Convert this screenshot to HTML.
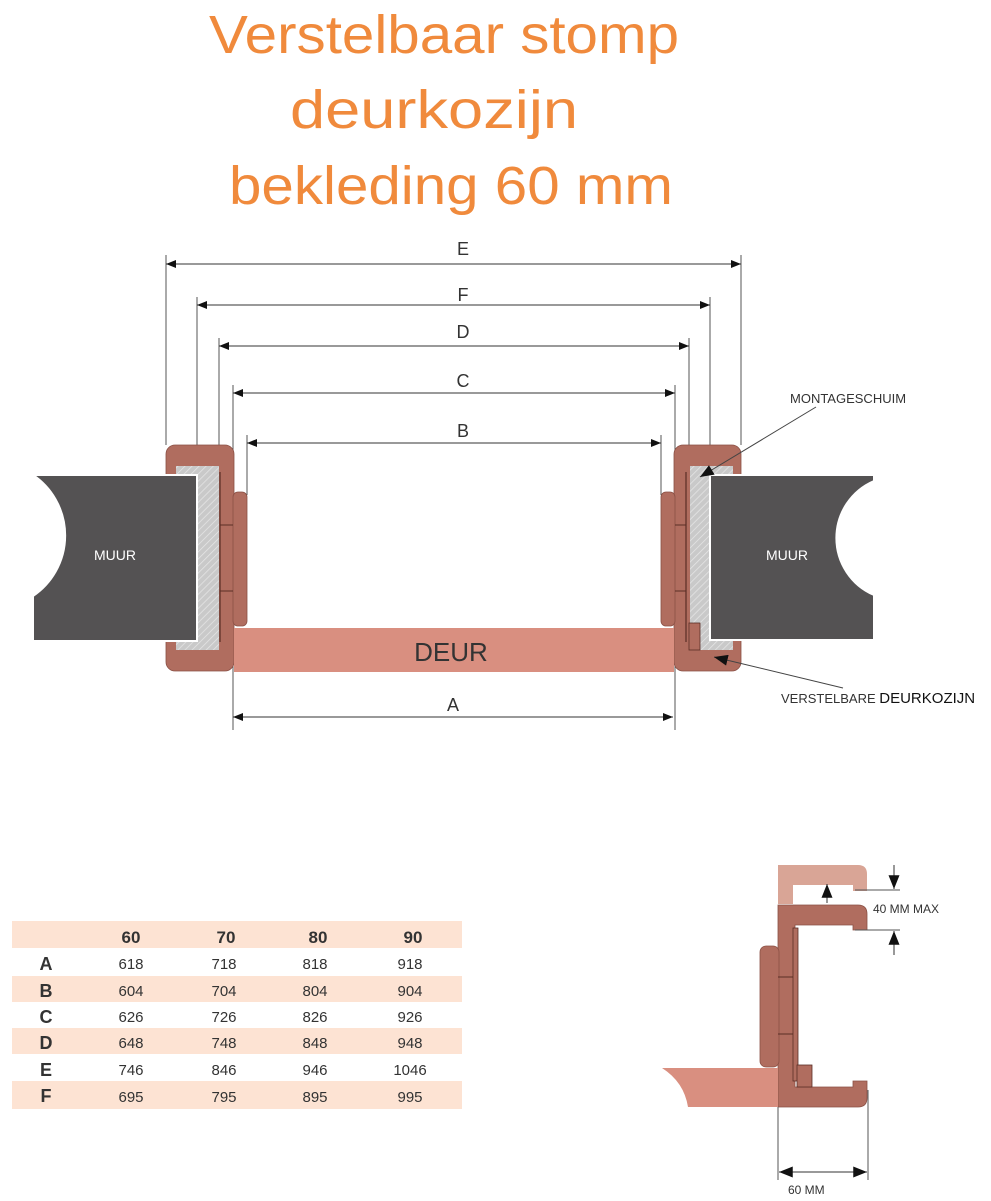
<!DOCTYPE html>
<html><head><meta charset="utf-8"><style>
html,body{margin:0;padding:0;background:#fff;}
svg{display:block;font-family:"Liberation Sans",sans-serif;}
</style></head><body>
<svg width="991" height="1201" viewBox="0 0 991 1201" xmlns="http://www.w3.org/2000/svg">
<defs>
<marker id="ar" viewBox="0 0 10 8" refX="10" refY="4" markerWidth="10" markerHeight="8" orient="auto-start-reverse" markerUnits="userSpaceOnUse"><path d="M0,0 L10,4 L0,8z" fill="#111"/></marker>
<marker id="ar2" viewBox="0 0 10 8" refX="10" refY="4" markerWidth="14" markerHeight="11" orient="auto-start-reverse" markerUnits="userSpaceOnUse"><path d="M0,0 L10,4 L0,8z" fill="#111"/></marker>
<pattern id="hatch" width="5" height="5" patternUnits="userSpaceOnUse" patternTransform="rotate(45)"><rect width="5" height="5" fill="#c9c9c9"/><line x1="0" y1="0" x2="0" y2="5" stroke="#e6e6e6" stroke-width="1.5"/></pattern>
</defs>
<g fill="#f08a3c" font-size="54" text-anchor="middle" font-family="Liberation Sans,sans-serif">
<text x="444" y="53" textLength="470" lengthAdjust="spacingAndGlyphs">Verstelbaar stomp</text>
<text x="434" y="128" textLength="288" lengthAdjust="spacingAndGlyphs">deurkozijn</text>
<text x="451" y="204" textLength="444" lengthAdjust="spacingAndGlyphs">bekleding 60 mm</text>
</g>
<g stroke="#555" stroke-width="1" fill="none">
<line x1="166" y1="255" x2="166" y2="445"/><line x1="741" y1="255" x2="741" y2="445"/>
<line x1="197" y1="297" x2="197" y2="475"/><line x1="710" y1="297" x2="710" y2="475"/>
<line x1="219" y1="338" x2="219" y2="470"/><line x1="689" y1="338" x2="689" y2="470"/>
<line x1="233" y1="385" x2="233" y2="730"/><line x1="675" y1="385" x2="675" y2="730"/>
<line x1="247" y1="435" x2="247" y2="495"/><line x1="661" y1="435" x2="661" y2="495"/>
</g>
<g stroke="#333" stroke-width="1">
<line x1="166" y1="264" x2="741" y2="264" marker-start="url(#ar)" marker-end="url(#ar)"/>
<line x1="197" y1="305" x2="710" y2="305" marker-start="url(#ar)" marker-end="url(#ar)"/>
<line x1="219" y1="346" x2="689" y2="346" marker-start="url(#ar)" marker-end="url(#ar)"/>
<line x1="233" y1="393" x2="675" y2="393" marker-start="url(#ar)" marker-end="url(#ar)"/>
<line x1="247" y1="443" x2="661" y2="443" marker-start="url(#ar)" marker-end="url(#ar)"/>
<line x1="233" y1="717" x2="673" y2="717" marker-start="url(#ar)" marker-end="url(#ar)"/>
</g>
<g fill="#333" font-size="18" text-anchor="middle">
<text x="463" y="255">E</text><text x="463" y="301">F</text><text x="463" y="338">D</text>
<text x="463" y="387">C</text><text x="463" y="437">B</text><text x="453" y="711">A</text>
</g>
<rect x="166" y="445" width="68" height="226" rx="9" fill="#b06d5f" stroke="#8a5045" stroke-width="0.8"/>
<rect x="233" y="492" width="14" height="134" rx="5" fill="#b06d5f" stroke="#8a5045" stroke-width="0.8"/>
<rect x="176" y="466" width="43" height="184" fill="url(#hatch)"/>
<line x1="220" y1="472" x2="220" y2="642" stroke="#5a2e26" stroke-width="1.2"/>
<line x1="220" y1="525" x2="233" y2="525" stroke="#5a2e26"/><line x1="220" y1="591" x2="233" y2="591" stroke="#5a2e26"/>
<path d="M33,475 L197,475 L197,641 L33,641 L33,596 A73,73 0 0 0 33,475 Z" fill="#545253" stroke="#fff" stroke-width="2"/>
<text x="115" y="560" fill="#fff" font-size="14" text-anchor="middle">MUUR</text>
<rect x="674" y="445" width="67" height="226" rx="9" fill="#b06d5f" stroke="#8a5045" stroke-width="0.8"/>
<rect x="661" y="492" width="14" height="134" rx="5" fill="#b06d5f" stroke="#8a5045" stroke-width="0.8"/>
<rect x="690" y="466" width="43" height="184" fill="url(#hatch)"/>
<line x1="686" y1="472" x2="686" y2="642" stroke="#5a2e26" stroke-width="1.2"/>
<line x1="675" y1="525" x2="686" y2="525" stroke="#5a2e26"/><line x1="675" y1="591" x2="686" y2="591" stroke="#5a2e26"/>
<rect x="689" y="623" width="11" height="27" fill="#b06d5f" stroke="#5a2e26" stroke-width="0.8"/>
<path d="M710,475 L874,475 L874,481 A62,62 0 0 0 874,595 L874,640 L710,640 Z" fill="#545253" stroke="#fff" stroke-width="2"/>
<text x="787" y="560" fill="#fff" font-size="14" text-anchor="middle">MUUR</text>
<rect x="234" y="628" width="440" height="44" fill="#d98f80"/>
<text x="451" y="661" fill="#333" font-size="26" text-anchor="middle">DEUR</text>
<line x1="816" y1="407" x2="700" y2="477" stroke="#444" marker-end="url(#ar2)"/>
<text x="790" y="403" fill="#333" font-size="13">MONTAGESCHUIM</text>
<line x1="843" y1="688" x2="714" y2="657" stroke="#444" marker-end="url(#ar2)"/>
<text x="781" y="703" fill="#333" font-size="13">VERSTELBARE <tspan font-size="15" fill="#111">DEURKOZIJN</tspan></text>
<g fill="#fde3d3">
<rect x="12" y="921" width="450" height="27"/><rect x="12" y="976" width="450" height="26"/>
<rect x="12" y="1028" width="450" height="26"/><rect x="12" y="1081" width="450" height="28"/>
</g>
<g fill="#333" font-size="17" font-weight="bold" text-anchor="middle">
<text x="131" y="943">60</text><text x="226" y="943">70</text><text x="318" y="943">80</text><text x="413" y="943">90</text>
</g>
<g fill="#333" font-size="18" font-weight="bold" text-anchor="middle">
<text x="46" y="970">A</text><text x="46" y="997">B</text><text x="46" y="1023">C</text><text x="46" y="1049">D</text><text x="46" y="1076">E</text><text x="46" y="1102">F</text>
</g>
<g fill="#333" font-size="15" text-anchor="middle">
<text x="131" y="969">618</text><text x="224" y="969">718</text><text x="315" y="969">818</text><text x="410" y="969">918</text>
<text x="131" y="996">604</text><text x="224" y="996">704</text><text x="315" y="996">804</text><text x="410" y="996">904</text>
<text x="131" y="1022">626</text><text x="224" y="1022">726</text><text x="315" y="1022">826</text><text x="410" y="1022">926</text>
<text x="131" y="1048">648</text><text x="224" y="1048">748</text><text x="315" y="1048">848</text><text x="410" y="1048">948</text>
<text x="131" y="1075">746</text><text x="224" y="1075">846</text><text x="315" y="1075">946</text><text x="410" y="1075">1046</text>
<text x="131" y="1102">695</text><text x="224" y="1102">795</text><text x="315" y="1102">895</text><text x="410" y="1102">995</text>
</g>
<path d="M778,865 L858,865 Q867,865 867,874 L867,891 L853,891 L853,885 L793,885 L793,904 L778,904 Z" fill="#d9a596"/>
<path d="M778,905 L858,905 Q867,905 867,914 L867,930 L853,930 L853,925 L795,925 L795,1087 L853,1087 L853,1081 L867,1081 L867,1098 Q867,1107 858,1107 L778,1107 Z" fill="#b06d5f" stroke="#8a5045" stroke-width="0.8"/>
<rect x="760" y="946" width="19" height="121" rx="6" fill="#b06d5f" stroke="#8a5045" stroke-width="0.8"/>
<line x1="778" y1="977" x2="793" y2="977" stroke="#5a2e26"/><line x1="778" y1="1034" x2="793" y2="1034" stroke="#5a2e26"/>
<rect x="793" y="928" width="5" height="153" fill="#b06d5f" stroke="#5a2e26" stroke-width="0.8"/>
<rect x="797" y="1065" width="15" height="22" fill="#b06d5f" stroke="#5a2e26" stroke-width="0.8"/>
<path d="M662,1068 L778,1068 L778,1107 L688,1107 Q684,1082 662,1068 Z" fill="#d98f80"/>
<g stroke="#555" stroke-width="1">
<line x1="855" y1="890" x2="900" y2="890"/><line x1="855" y1="930" x2="900" y2="930"/>
<line x1="778" y1="1107" x2="778" y2="1180"/><line x1="868" y1="1090" x2="868" y2="1180"/>
</g>
<g stroke="#333" stroke-width="1">
<line x1="894" y1="865" x2="894" y2="889" marker-end="url(#ar2)"/>
<line x1="894" y1="955" x2="894" y2="931" marker-end="url(#ar2)"/>
<line x1="827" y1="903" x2="827" y2="884" marker-end="url(#ar2)"/>
<line x1="779" y1="1172" x2="867" y2="1172" marker-start="url(#ar2)" marker-end="url(#ar2)"/>
</g>
<text x="873" y="913" fill="#333" font-size="12">40 MM MAX</text>
<text x="788" y="1194" fill="#333" font-size="12">60 MM</text>
</svg>
</body></html>
